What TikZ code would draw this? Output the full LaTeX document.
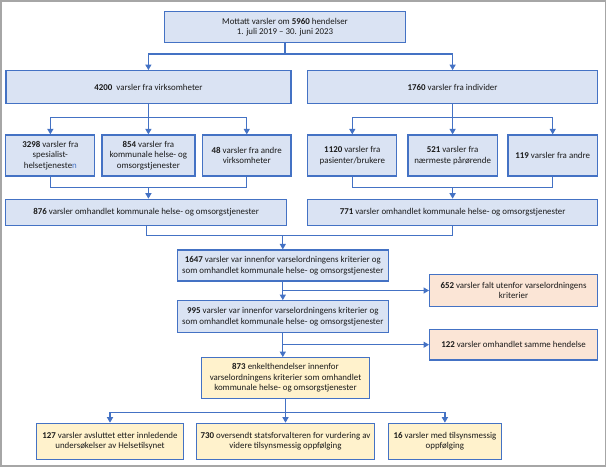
\documentclass[tikz,border=0pt]{standalone}
\usepackage{fontspec}
\setmainfont{Carlito}
\usetikzlibrary{arrows.meta,calc}
\definecolor{bfill}{HTML}{DAE3F3}
\definecolor{bline}{HTML}{4472C4}
\definecolor{pfill}{HTML}{FBE5D6}
\definecolor{yfill}{HTML}{FFF2CC}
\definecolor{frame}{HTML}{A6A6A6}
\definecolor{txt}{HTML}{1A1A1A}
\tikzset{
  box/.style={draw=bline, line width=1.2pt, fill=bfill, inner sep=0pt, align=center,
    text=txt, font=\fontsize{8.9}{10.6}\selectfont},
  pbox/.style={box, fill=pfill},
  ybox/.style={box, fill=yfill},
  conn/.style={draw=bline, line width=1.2pt},
  arr/.style={conn, -{Triangle[length=5.5pt,width=6pt]}},
}
\begin{document}
\begin{tikzpicture}[x=1pt,y=-1pt]
\useasboundingbox (0,0) rectangle (607,467);
\draw[frame, line width=1.5pt] (0.8,0.8) rectangle (605.5,466);

\node[box, minimum width=241pt, minimum height=31pt] (top) at (285,27.2)
  {Mottatt varsler om \textbf{5960} hendelser\\1. juli 2019 – 30. juni 2023};

\node[box, minimum width=285pt, minimum height=32.6pt] (b4200) at (148.4,87)
  {\textbf{4200}~ varsler fra virksomheter};
\node[box, minimum width=289.6pt, minimum height=32.6pt] (b1760) at (452.6,87)
  {\textbf{1760} varsler fra individer};

\node[box, minimum width=89pt, minimum height=41pt] (b3298) at (50.35,155.5)
  {\textbf{3298} varsler fra\\spesialist-\\helsetjeneste{\color{bline}n}};
\node[box, minimum width=93pt, minimum height=41pt] (b854) at (148.4,155.5)
  {\textbf{854} varsler fra\\kommunale helse- og\\omsorgstjenester};
\node[box, minimum width=88.5pt, minimum height=41pt] (b48) at (246.75,155.5)
  {\textbf{48} varsler fra andre\\virksomheter};
\node[box, minimum width=89pt, minimum height=41pt] (b1120) at (352.3,155.5)
  {\textbf{1120} varsler fra\\pasienter/brukere};
\node[box, minimum width=89.4pt, minimum height=41pt] (b521) at (452.6,155.5)
  {\textbf{521} varsler fra\\nærmeste pårørende};
\node[box, minimum width=89.4pt, minimum height=41pt] (b119) at (552.7,155.5)
  {\textbf{119} varsler fra andre};

\node[box, minimum width=280.7pt, minimum height=26.2pt] (b876) at (146.15,212.4)
  {\textbf{876} varsler omhandlet kommunale helse- og omsorgstjenester};
\node[box, minimum width=289.6pt, minimum height=26.2pt] (b771) at (452.6,212.4)
  {\textbf{771} varsler omhandlet kommunale helse- og omsorgstjenester};

\node[box, minimum width=211pt, minimum height=31pt] (b1647) at (282.8,265.5)
  {\textbf{1647} varsler var innenfor varselordningens kriterier og\\som omhandlet kommunale helse- og omsorgstjenester};
\node[pbox, minimum width=167.7pt, minimum height=32.4pt] (b652) at (513.5,290.5)
  {\textbf{652} varsler falt utenfor varselordningens\\kriterier};
\node[box, minimum width=211pt, minimum height=32pt] (b995) at (282.8,316.7)
  {\textbf{995} varsler var innenfor varselordningens kriterier og\\som omhandlet kommunale helse- og omsorgstjenester};
\node[pbox, minimum width=167.7pt, minimum height=30.7pt] (b122) at (513.5,344.7)
  {\textbf{122} varsler omhandlet samme hendelse};
\node[ybox, minimum width=168.4pt, minimum height=40.6pt] (b873) at (285.5,378)
  {\textbf{873} enkelthendelser innenfor\\varselordningens kriterier som omhandlet\\kommunale helse- og omsorgstjenester};

\node[ybox, minimum width=146.3pt, minimum height=36pt] (b127) at (110,441.3)
  {\textbf{127} varsler avsluttet etter innledende\\undersøkelser av Helsetilsynet};
\node[ybox, minimum width=178.5pt, minimum height=36pt] (b730) at (285.5,441.3)
  {\textbf{730} oversendt statsforvalteren for vurdering av\\videre tilsynsmessig oppfølging};
\node[ybox, minimum width=113.1pt, minimum height=36pt] (b16) at (444.9,441.3)
  {\textbf{16} varsler med tilsynsmessig\\oppfølging};

% junctions
\coordinate (jTop) at (285,54);
\coordinate (jL) at (148.4,117.3);
\coordinate (jR) at (452.6,117.3);
\coordinate (jL2) at (148.4,187.3);
\coordinate (jR2) at (452.6,187.3);
\coordinate (jM) at (282.8,235.3);
\coordinate (jA) at (282.8,290.5);
\coordinate (jB) at (282.8,344.7);
\coordinate (jC) at (285.5,412.3);

\draw[conn] (top.south) -- (jTop);
\draw[arr] (jTop) -| (b4200.north);
\draw[arr] (jTop) -| (b1760.north);

\draw[conn] (b4200.south) -- (jL);
\draw[arr] (jL) -| (b3298.north);
\draw[arr] (jL) -- (b854.north);
\draw[arr] (jL) -| (b48.north);

\draw[conn] (b1760.south) -- (jR);
\draw[arr] (jR) -| (b1120.north);
\draw[arr] (jR) -- (b521.north);
\draw[arr] (jR) -| (b119.north);

\draw[conn] (b3298.south) |- (jL2) -| (b48.south);
\draw[arr] (jL2) -- (jL2 |- b876.north);
\draw[conn] (b1120.south) |- (jR2) -| (b119.south);
\draw[arr] (jR2) -- (b771.north);

\draw[conn] (b876.south) |- (jM) -| (b771.south);
\draw[arr] (jM) -- (b1647.north);

\draw[arr] (b1647.south) -- (b995.north);
\draw[arr] (jA) -- (b652.west);
\draw[arr] (b995.south) -- (b995.south |- b873.north);
\draw[arr] (jB) -- (b122.west);

\draw[conn] (b873.south) -- (jC);
\draw[arr] (jC) -| (b127.north);
\draw[arr] (jC) -- (b730.north);
\draw[arr] (jC) -| (b16.north);
\end{tikzpicture}
\end{document}
